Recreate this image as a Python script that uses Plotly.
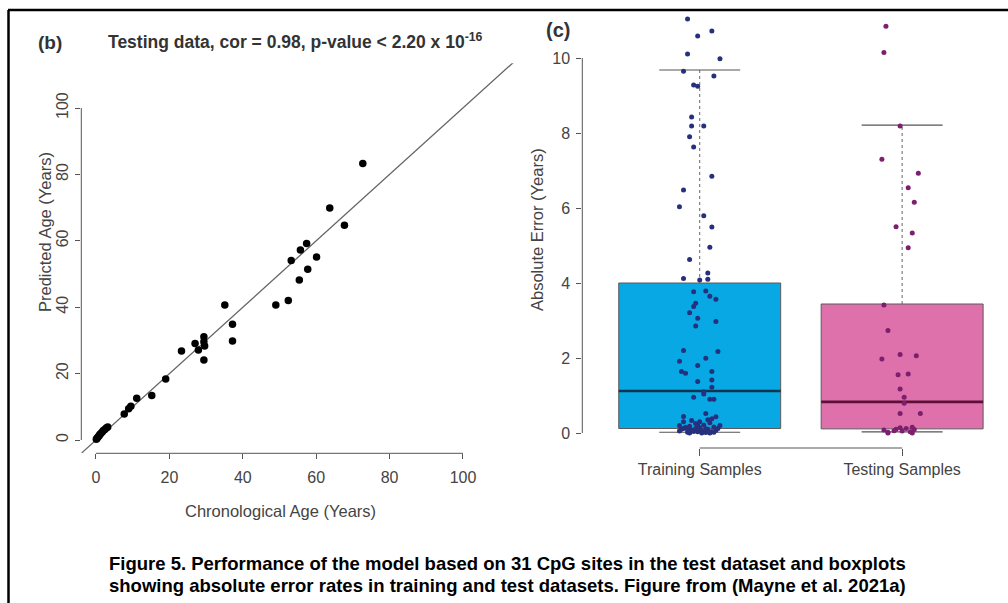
import plotly.graph_objects as go

W, H = 1008, 603
FONT = "Liberation Sans, Arial, sans-serif"

# ---------------- Panel (b): predicted vs chronological age (testing data) ----------------
chron_age = [0.1, 0.3, 0.5, 0.8, 1.0, 1.3, 1.7, 2.0, 2.4, 2.8, 3.2,
             7.7, 8.9, 9.5, 11.1, 15.2, 19.0, 23.3, 27.0, 27.9, 29.4, 29.4, 29.6, 29.4,
             35.1, 37.2, 37.2, 49.0, 52.4, 53.2, 55.4, 55.7, 57.4, 57.7, 60.1, 63.7, 67.7, 72.7]
pred_age = [0.2, 0.5, 0.8, 1.2, 1.6, 2.0, 2.4, 2.9, 3.2, 3.6, 3.9,
            7.8, 9.4, 10.2, 12.6, 13.4, 18.4, 26.8, 29.1, 27.1, 31.1, 29.6, 28.3, 24.1,
            40.7, 34.9, 29.8, 40.7, 42.0, 54.1, 48.2, 57.2, 59.2, 51.4, 55.1, 69.9, 64.7, 83.3]
age_ticks = [0, 20, 40, 60, 80, 100]
ident_line = [-4, 120]

# ---------------- Panel (c): absolute error boxplots ----------------
groups = ["Training Samples", "Testing Samples"]
group_pos = [1, 2]
q1 = [0.12, 0.11]
median = [1.12, 0.83]
q3 = [4.00, 3.44]
whisk_lo = [0.02, 0.03]
whisk_hi = [9.68, 8.21]
err_ticks = [0, 2, 4, 6, 8, 10]

train_err = [11.04, 10.59, 10.72, 10.11, 9.98, 9.65, 9.52, 9.28, 9.25, 8.43, 8.19, 8.19, 7.90, 7.63,
             6.85, 6.48, 6.03, 5.79, 5.49, 4.95, 4.63, 4.12, 4.27, 4.08, 4.10, 3.77, 3.79, 3.65,
             3.57, 3.46, 3.37, 3.21, 3.06, 2.85, 2.97, 2.20, 2.17, 1.99, 1.91, 1.80, 1.64, 1.59,
             1.64, 1.41, 1.37, 1.22, 1.10, 1.04, 0.95, 0.90, 0.90, 0.44, 0.52, 0.43,
             0.05, 0.12, 0.02, 0.18, 0.08, 0.25, 0.03, 0.14, 0.06, 0.21, 0.01, 0.10, 0.04, 0.16,
             0.07, 0.12, 0.20, 0.30, 0.09, 0.04, 0.30, 0.11, 0.27, 0.02, 0.20, 0.15, 0.22, 0.35,
             0.33, 0.38, 0.10, 0.00, 0.00, 0.00, 0.12]
train_jitter = [-0.06, -0.01, 0.06, -0.06, 0.10, -0.08, 0.07, -0.03, -0.01, -0.04, -0.04, 0.02, -0.05, -0.03,
                0.06, -0.08, -0.10, 0.02, 0.06, 0.05, -0.05, -0.08, 0.04, 0.00, 0.04, -0.03, 0.03, 0.05,
                0.08, -0.02, -0.03, -0.05, -0.01, -0.02, 0.08, -0.08, 0.09, 0.03, -0.10, -0.01, -0.09, -0.07,
                0.06, 0.06, -0.01, 0.06, 0.02, 0.02, -0.03, 0.05, 0.07, -0.08, 0.03, 0.08,
                -0.10, -0.08, -0.06, -0.05, -0.04, -0.02, -0.01, 0.00, 0.01, 0.02, 0.03, 0.04, 0.06, 0.07,
                0.08, 0.09, -0.10, -0.08, -0.06, -0.03, 0.00, 0.03, 0.05, 0.07, 0.10, -0.07, -0.01, 0.04,
                -0.04, 0.06, -0.09, 0.01, 0.05, -0.05, -0.02]

test_err = [10.85, 10.15, 8.19, 7.30, 6.93, 6.54, 6.15, 5.50, 5.33, 4.94, 3.41, 2.73, 1.97, 2.09,
            2.06, 1.55, 1.57, 1.17, 0.95, 0.79, 0.52, 0.52,
            0.08, 0.02, 0.10, 0.05, 0.12, 0.03, 0.15, 0.00, 0.00, 0.14, 0.06, 0.09]
test_jitter = [-0.08, -0.09, -0.01, -0.10, 0.08, 0.03, 0.06, -0.03, 0.05, 0.03, -0.09, -0.07, -0.10, -0.01,
               0.07, -0.02, 0.03, -0.01, 0.01, 0.01, -0.01, 0.09,
               -0.09, -0.07, -0.03, 0.00, 0.02, 0.04, 0.05, -0.07, 0.05, -0.01, -0.04, 0.06]

caption = ["Figure 5. Performance of the model based on 31 CpG sites in the test dataset and boxplots",
           "showing absolute error rates in training and test datasets. Figure from (Mayne et al. 2021a)"]

# ---------------- styles / layout geometry ----------------
BOX_W = 0.8
fills = ["#08A8E4", "#DE70AB"]
med_cols = ["#12344f", "#5c1038"]
pt_cols = ["#27307c", "#7d1e6e"]
AX_COL = "#555555"
TXT_COL = "#444444"
TICK_SIZE = 16
TITLE_SIZE = 16.5


def px(x):
    return x / W


def py(y):
    return 1 - y / H


# panel b plot area (in pixels)
bx0, bx1 = 81.3, 521.7
by0, by1 = 453.3, 63.2
# panel c plot area
cx0, cx1 = 582.3, 1008
cy0, cy1 = 448.0, 1.75

fig = go.Figure()

# identity line
fig.add_trace(go.Scatter(x=ident_line, y=ident_line, mode="lines",
                         line=dict(color="#666666", width=1.3), xaxis="x", yaxis="y",
                         hoverinfo="skip"))
fig.add_trace(go.Scatter(x=chron_age, y=pred_age, mode="markers",
                         marker=dict(color="black", size=7.5), xaxis="x", yaxis="y",
                         cliponaxis=False))

# boxes
for i in range(2):
    c = group_pos[i]
    fig.add_trace(go.Bar(x=[c], y=[q3[i] - q1[i]], base=[q1[i]], width=BOX_W,
                         marker=dict(color=fills[i], line=dict(color="#5a5a5a", width=1)),
                         xaxis="x2", yaxis="y2"))
    # whiskers (dashed)
    fig.add_trace(go.Scatter(x=[c, c], y=[q3[i], whisk_hi[i]], mode="lines",
                             line=dict(color="#666666", width=1, dash="dot"), xaxis="x2", yaxis="y2"))
    fig.add_trace(go.Scatter(x=[c, c], y=[q1[i], whisk_lo[i]], mode="lines",
                             line=dict(color="#666666", width=1, dash="dot"), xaxis="x2", yaxis="y2"))
    # staples
    for wv in (whisk_hi[i], whisk_lo[i]):
        fig.add_trace(go.Scatter(x=[c - BOX_W / 4, c + BOX_W / 4], y=[wv, wv], mode="lines",
                                 line=dict(color="#555555", width=1.2), xaxis="x2", yaxis="y2"))
    # median
    fig.add_trace(go.Scatter(x=[c - BOX_W / 2, c + BOX_W / 2], y=[median[i], median[i]], mode="lines",
                             line=dict(color=med_cols[i], width=2.6), xaxis="x2", yaxis="y2"))

# jittered points
fig.add_trace(go.Scatter(x=[group_pos[0] + j for j in train_jitter], y=train_err, mode="markers",
                         marker=dict(color=pt_cols[0], size=5), xaxis="x2", yaxis="y2", cliponaxis=False))
fig.add_trace(go.Scatter(x=[group_pos[1] + j for j in test_jitter], y=test_err, mode="markers",
                         marker=dict(color=pt_cols[1], size=5), xaxis="x2", yaxis="y2", cliponaxis=False))

tickfont = dict(family=FONT, size=TICK_SIZE, color=TXT_COL)

fig.update_layout(
    width=W, height=H, autosize=False,
    margin=dict(l=0, r=0, t=0, b=0),
    paper_bgcolor="white", plot_bgcolor="white",
    showlegend=False, barmode="overlay",
    xaxis=dict(domain=[px(bx0), px(bx1)], range=[-4, 116], anchor="y",
               tickvals=age_ticks, ticks="outside", ticklen=5, tickcolor=AX_COL,
               showline=False, showgrid=False, zeroline=False, tickfont=tickfont,
               ticklabelstandoff=4),
    yaxis=dict(domain=[py(by0), py(by1)], range=[-4, 113.5], anchor="x",
               tickvals=age_ticks, ticks="outside", ticklen=5, tickcolor=AX_COL,
               showline=False, showgrid=False, zeroline=False, tickfont=tickfont,
               tickangle=-90, ticklabelstandoff=1),
    xaxis2=dict(domain=[px(cx0), px(cx1)], range=[0.42, 2.523], anchor="y2",
                tickvals=group_pos, ticktext=groups, ticks="outside", ticklen=7, tickcolor=AX_COL,
                showline=False, showgrid=False, zeroline=False, tickfont=tickfont,
                ticklabelstandoff=0),
    yaxis2=dict(domain=[py(cy0), py(cy1)], range=[-0.4, 11.5], anchor="x2",
                tickvals=err_ticks, ticks="outside", ticklen=5, tickcolor=AX_COL,
                showline=False, showgrid=False, zeroline=False, tickfont=tickfont,
                ticklabelstandoff=3),
)

shapes = [
    # R-style axis lines spanning first to last tick
    dict(type="line", xref="x", yref="paper", x0=age_ticks[0], x1=age_ticks[-1],
         y0=py(by0), y1=py(by0), line=dict(color=AX_COL, width=1)),
    dict(type="line", xref="paper", yref="y", x0=px(bx0), x1=px(bx0),
         y0=age_ticks[0], y1=age_ticks[-1], line=dict(color=AX_COL, width=1)),
    dict(type="line", xref="x2", yref="paper", x0=group_pos[0], x1=group_pos[-1],
         y0=py(cy0), y1=py(cy0), line=dict(color=AX_COL, width=1)),
    dict(type="line", xref="paper", yref="y2", x0=px(cx0), x1=px(cx0),
         y0=err_ticks[0], y1=err_ticks[-1], line=dict(color=AX_COL, width=1)),
    # figure frame
    dict(type="line", xref="paper", yref="paper", x0=px(8), x1=1, y0=py(10), y1=py(10),
         line=dict(color="black", width=2.5)),
    dict(type="line", xref="paper", yref="paper", x0=px(8.5), x1=px(8.5), y0=py(10), y1=0,
         line=dict(color="black", width=2.5)),
]
fig.update_layout(shapes=shapes)


def note(text, x, y, size, color, xanchor="center", angle=0):
    return dict(text=text, x=px(x), y=py(y), xref="paper", yref="paper",
                xanchor=xanchor, yanchor="middle", textangle=angle,
                font=dict(family=FONT, size=size, color=color), showarrow=False)


ann = [
    note("<b>(b)</b>", 36, 42, 19, "#333333", "left"),
    note("<b>Testing data, cor = 0.98, p-value &lt; 2.20 x 10<sup>-16</sup></b>", 106, 41, 17.5, "#333333", "left"),
    note("<b>(c)</b>", 544, 30, 20, "#333333", "left"),
    note("Chronological Age (Years)", 280, 511, TITLE_SIZE, TXT_COL),
    note("Predicted Age (Years)", 45, 232, TITLE_SIZE, TXT_COL, angle=-90),
    note("Absolute Error (Years)", 537, 230, TITLE_SIZE, TXT_COL, angle=-90),
    note("<b>" + caption[0] + "</b>", 507, 563, 18.5, "black"),
    note("<b>" + caption[1] + "</b>", 507, 585, 18.5, "black"),
]
fig.update_layout(annotations=ann)

fig.write_html("out.html")
